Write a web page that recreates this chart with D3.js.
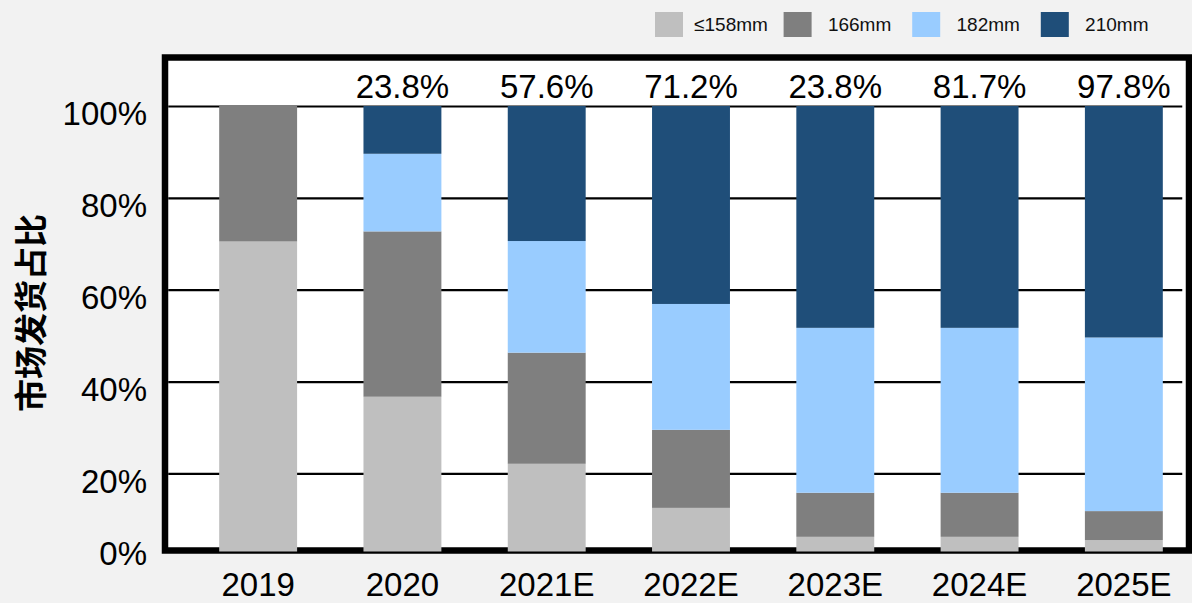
<!DOCTYPE html>
<html>
<head>
<meta charset="utf-8">
<script src="https://cdn.jsdelivr.net/npm/d3@7"></script>
<style>
  html, body { margin: 0; padding: 0; background: #f2f2f2; }
  svg { display: block; font-family: "Liberation Sans", Arial, sans-serif; }
</style>
</head>
<body>
<svg id="chart" width="1192" height="603"></svg>
<script>
// Shipment share by wafer size (%), one array per size
const years  = ["2019", "2020", "2021E", "2022E", "2023E", "2024E", "2025E"];
const le158  = [70.5, 36.7, 22.1, 12.5, 6.2, 6.2, 5.5];
const s166   = [29.5, 36.0, 24.2, 17.0, 9.6, 9.6, 6.3];
const s182   = [0, 16.9, 24.3, 27.4, 35.9, 35.9, 37.8];
const s210   = [0, 10.4, 29.4, 43.1, 48.3, 48.3, 50.4];
const topLabels = ["", "23.8%", "57.6%", "71.2%", "23.8%", "81.7%", "97.8%"];
const seriesNames = ["≤158mm", "166mm", "182mm", "210mm"];
const yTicks = [0, 20, 40, 60, 80, 100];

const colors = ["#bfbfbf", "#7f7f7f", "#99ccff", "#1f4e79"];
const keys = ["a", "b", "c", "d"];

const rows = years.map((yr, i) => ({
  year: yr, a: le158[i], b: s166[i], c: s182[i], d: s210[i]
}));

const svg = d3.select("#chart");

// Frame of the plot area
const frame = { left: 165, top: 57.5, right: 1189, bottom: 550.5, stroke: 6.5 };
const inner = {
  left: frame.left + frame.stroke / 2,
  right: frame.right - frame.stroke / 2,
  top: frame.top + frame.stroke / 2,
  bottom: frame.bottom + 1
};

const x = d3.scaleBand()
  .domain(years)
  .range([186, 1196])
  .paddingInner(0.46)
  .paddingOuter(0.23);

const y = d3.scaleLinear().domain([0, 100]).range([565.3, 106]);

svg.append("rect")
  .attr("x", frame.left).attr("y", frame.top)
  .attr("width", frame.right - frame.left)
  .attr("height", frame.bottom - frame.top)
  .attr("fill", "#ffffff")
  .attr("stroke", "#000")
  .attr("stroke-width", frame.stroke);

// Horizontal gridlines
const grid = svg.append("g")
  .attr("transform", `translate(${inner.left},0)`)
  .call(d3.axisRight(y).tickValues(yTicks.filter(v => v > 0)).tickSize(1014).tickFormat(""));
grid.select(".domain").remove();
grid.selectAll("line").attr("stroke", "#000").attr("stroke-width", 2.2);

// Y tick labels
const yAxis = svg.append("g")
  .attr("transform", `translate(${frame.left},0)`)
  .call(d3.axisLeft(y).tickValues(yTicks).tickSize(0).tickPadding(18).tickFormat(d => d + "%"));
yAxis.select(".domain").remove();
yAxis.selectAll("text")
  .attr("font-size", 33)
  .attr("fill", "#000")
  .attr("font-family", "'Liberation Sans', Arial, sans-serif")
  .attr("y", d => Math.min(8, inner.bottom + 2 - y(d)));

// Stacked bars
svg.append("clipPath").attr("id", "plotClip")
  .append("rect")
  .attr("x", inner.left).attr("y", inner.top)
  .attr("width", inner.right - inner.left)
  .attr("height", inner.bottom - inner.top);

const stacked = d3.stack().keys(keys)(rows);
const bars = svg.append("g").attr("clip-path", "url(#plotClip)");
stacked.forEach((layer, li) => {
  bars.append("g")
    .attr("fill", colors[li])
    .selectAll("rect")
    .data(layer.filter(d => d[1] - d[0] > 0))
    .join("rect")
    .attr("x", d => x(d.data.year))
    .attr("width", x.bandwidth())
    .attr("y", d => y(d[1]))
    .attr("height", d => y(d[0]) - y(d[1]));
});

// Labels above bars
svg.append("g")
  .selectAll("text")
  .data(years.map((yr, i) => ({ year: yr, label: topLabels[i] })).filter(d => d.label))
  .join("text")
  .attr("x", d => x(d.year) + x.bandwidth() / 2)
  .attr("y", y(100) - 8)
  .attr("text-anchor", "middle")
  .attr("font-size", 33)
  .attr("fill", "#000")
  .text(d => d.label);

// X axis labels
const xAxis = svg.append("g")
  .attr("transform", `translate(0,${frame.bottom})`)
  .call(d3.axisBottom(x).tickSize(0).tickPadding(22));
xAxis.select(".domain").remove();
xAxis.selectAll("text")
  .attr("font-size", 33)
  .attr("fill", "#000")
  .attr("font-family", "'Liberation Sans', Arial, sans-serif");

// Y axis title
svg.append("text")
  .attr("transform", "translate(43,313) rotate(-90)")
  .attr("text-anchor", "middle")
  .attr("font-family", "'Noto Sans CJK SC', sans-serif")
  .attr("font-weight", "bold")
  .attr("font-size", 33)
  .attr("fill", "#000")
  .text("市场发货占比");

// Legend
const legend = svg.append("g").attr("transform", "translate(655,12)");
const item = legend.selectAll("g")
  .data(seriesNames)
  .join("g")
  .attr("transform", (d, i) => `translate(${i * 128.6},0)`);
item.append("rect")
  .attr("width", 28).attr("height", 25)
  .attr("fill", (d, i) => colors[i]);
item.append("text")
  .attr("x", 76).attr("y", 19)
  .attr("text-anchor", "middle")
  .attr("font-size", 19)
  .attr("fill", "#111")
  .text(d => d);
</script>
</body>
</html>
